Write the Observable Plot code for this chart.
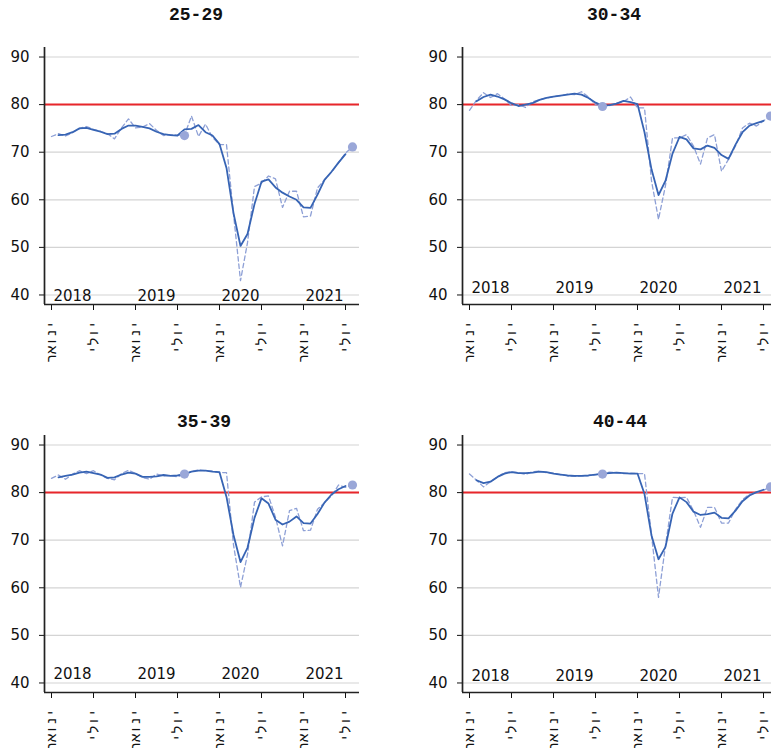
<!DOCTYPE html>
<html><head><meta charset="utf-8">
<script src="https://cdn.jsdelivr.net/npm/d3@7"></script>
<script src="https://cdn.jsdelivr.net/npm/@observablehq/plot@0.6"></script>
<style>
html,body{margin:0;padding:0;background:#fff;overflow:hidden;width:771px;height:748px}
#wrap{position:relative;width:771px;height:748px;overflow:hidden}
.title{position:absolute;font-family:"Liberation Mono",monospace;font-weight:bold;font-size:18px;line-height:20px;text-align:center;width:300px;color:#111}
.panel{position:absolute;width:418px;height:366px}
.panel svg{max-width:none !important}
.xlab text{font-family:"Liberation Mono",monospace}
</style></head><body><div id="wrap"></div>
<script>
// ---- data ----
const titles = ["25-29", "30-34", "35-39", "40-44"];
const yTicks = [40, 50, 60, 70, 80, 90];
const target = 80;
const xTicks = [0, 6, 12, 18, 24, 30, 36, 42];
const xTickLabels = ["ינואר", "יולי", "ינואר", "יולי", "ינואר", "יולי", "ינואר", "יולי"];
const years = ["2018", "2019", "2020", "2021"];
const yearMonths = [3, 15, 27, 39];
const dotMonths = [19, 43];

// monthly values, month 0 = Jan 2018
const raw2529 = [73.3, 73.9, 73.4, 74.1, 75.0, 75.4, 74.8, 74.4, 73.9, 72.8, 75.1, 77.0, 75.1, 75.3, 76.0, 74.6, 73.5, 73.7, 73.6, 73.6, 77.6, 73.3, 75.9, 73.1, 71.6, 71.6, 57.0, 43.0, 51.0, 62.8, 63.5, 65.0, 64.4, 58.4, 61.8, 61.8, 56.4, 56.6, 62.5, 64.2, 65.8, 67.8, 69.8, 71.1];
const smooth2529 = [73.6, 73.7, 74.2, 75.0, 75.1, 74.7, 74.3, 73.8, 73.9, 74.9, 75.6, 75.6, 75.3, 75.0, 74.3, 73.8, 73.6, 73.5, 74.8, 74.9, 75.7, 74.2, 73.5, 71.7, 66.7, 57.2, 50.3, 52.8, 59.1, 63.8, 64.3, 62.6, 61.5, 60.7, 60.0, 58.4, 58.3, 61.1, 64.2, 65.9, 67.8, 69.6];
const dots2529 = [73.5, 71.1];

const raw3034 = [78.8, 80.9, 82.5, 81.5, 82.3, 81.2, 79.8, 80.0, 79.4, 80.6, 81.0, 81.4, 81.7, 81.9, 82.2, 82.1, 82.7, 81.6, 80.0, 79.6, 79.8, 80.3, 80.6, 81.6, 79.3, 79.3, 64.0, 55.9, 63.0, 73.0, 73.0, 73.7, 71.3, 67.5, 73.0, 73.7, 66.0, 68.5, 71.3, 75.1, 76.1, 75.5, 76.6, 77.6];
const smooth3034 = [80.7, 81.6, 82.1, 81.7, 81.1, 80.3, 79.7, 80.0, 80.3, 81.0, 81.4, 81.7, 81.9, 82.1, 82.3, 82.1, 81.4, 80.4, 79.8, 79.9, 80.2, 80.8, 80.5, 80.1, 74.2, 66.4, 61.0, 64.0, 69.7, 73.2, 72.7, 70.8, 70.6, 71.4, 70.9, 69.4, 68.6, 71.6, 74.2, 75.6, 76.1, 76.6];
const dots3034 = [79.6, 77.6];

const raw3539 = [83.0, 83.7, 82.8, 83.9, 84.6, 84.0, 84.6, 83.7, 83.0, 82.7, 84.0, 84.7, 84.0, 83.2, 82.8, 83.9, 83.5, 83.6, 83.3, 83.9, 84.4, 84.8, 84.6, 84.5, 84.2, 84.2, 69.0, 60.1, 67.0, 78.0, 79.1, 79.3, 74.8, 68.8, 76.2, 76.7, 72.0, 72.1, 76.5, 77.9, 79.3, 81.6, 81.1, 81.6];
const smooth3539 = [83.2, 83.5, 83.8, 84.2, 84.4, 84.1, 83.8, 83.1, 83.2, 83.8, 84.2, 84.0, 83.3, 83.3, 83.4, 83.7, 83.5, 83.6, 83.9, 84.4, 84.6, 84.6, 84.4, 84.3, 79.1, 71.1, 65.4, 68.4, 74.7, 78.8, 77.7, 74.3, 73.3, 73.9, 75.0, 73.6, 73.5, 75.5, 77.9, 79.6, 80.7, 81.4];
const dots3539 = [83.9, 81.6];

const raw4044 = [83.9, 82.6, 81.2, 82.3, 83.3, 84.2, 84.4, 84.2, 83.8, 84.4, 84.5, 84.2, 84.1, 83.8, 83.5, 83.4, 83.5, 83.6, 83.8, 83.9, 84.3, 84.2, 84.0, 84.1, 84.0, 84.0, 71.1, 58.0, 68.9, 79.0, 78.9, 79.0, 76.2, 72.7, 76.9, 76.9, 73.6, 73.6, 76.5, 78.5, 79.7, 80.0, 80.5, 81.2];
const smooth4044 = [82.6, 82.0, 82.3, 83.3, 84.0, 84.3, 84.1, 84.1, 84.2, 84.4, 84.3, 84.0, 83.8, 83.6, 83.5, 83.5, 83.6, 83.8, 84.0, 84.1, 84.2, 84.1, 84.0, 84.0, 79.7, 71.0, 66.0, 68.6, 75.6, 79.0, 78.0, 76.0, 75.3, 75.5, 75.8, 74.7, 74.6, 76.2, 78.2, 79.4, 80.1, 80.6];
const dots4044 = [83.9, 81.2];

// ---- drawing ----
function panel(raw, smooth, dots, yearY) {
  const rawRows = raw.map((v, i) => ({m: i, v}));
  const smoothRows = smooth.map((v, i) => ({m: i + 1, v}));
  const dotRows = dotMonths.map((m, i) => ({m, v: dots[i]}));
  const yearRows = years.map((t, i) => ({m: yearMonths[i], t}));
  return Plot.plot({
    width: 418, height: 366,
    marginLeft: 44, marginRight: 59, marginTop: 47, marginBottom: 62,
    style: {fontFamily: "DejaVu Sans", fontSize: "15px", color: "#111", background: "transparent", overflow: "visible", maxWidth: "none"},
    x: {type: "linear", domain: [-1, 44]},
    y: {domain: [38, 92]},
    marks: [
      Plot.ruleY(yTicks, {stroke: "#d4d4d4", strokeWidth: 1.2}),
      Plot.ruleY([target], {stroke: "#e8262b", strokeWidth: 2}),
      Plot.line(rawRows, {x: "m", y: "v", stroke: "#8ea0d6", strokeWidth: 1.3, strokeDasharray: "4.5,3"}),
      Plot.line(smoothRows, {x: "m", y: "v", stroke: "#3764b4", strokeWidth: 1.8}),
      Plot.dot(dotRows, {x: "m", y: "v", r: 4.6, fill: "#9aa7d8"}),
      Plot.text(yearRows, {x: "m", y: yearY, text: "t", fontSize: 15, fill: "#111"}),
      Plot.axisY({ticks: yTicks, tickSize: 5, tickPadding: 10, fontSize: 15, label: null, tickFormat: d => String(d)}),
      Plot.axisX({ticks: xTicks, tickFormat: d => xTickLabels[xTicks.indexOf(d)], tickRotate: -90, tickSize: 6, tickPadding: 10, fontSize: 14, label: null, className: "xlab"}),
      Plot.ruleX([-1], {stroke: "#222", strokeWidth: 1.7}),
      Plot.ruleY([38], {stroke: "#222", strokeWidth: 1.7})
    ]
  });
}

const wrap = document.getElementById("wrap");
const specs = [
  {raw: raw2529, smooth: smooth2529, dots: dots2529, left: 0, top: 0, tx: 196, ty: 15, yearY: 39.8},
  {raw: raw3034, smooth: smooth3034, dots: dots3034, left: 418, top: 0, tx: 614, ty: 15, yearY: 41.5},
  {raw: raw3539, smooth: smooth3539, dots: dots3539, left: 0, top: 388, tx: 204, ty: 422, yearY: 41.8},
  {raw: raw4044, smooth: smooth4044, dots: dots4044, left: 418, top: 388, tx: 620, ty: 422, yearY: 41.4}
];
specs.forEach((s, i) => {
  const div = document.createElement("div");
  div.className = "panel";
  div.style.left = s.left + "px";
  div.style.top = s.top + "px";
  const svg = panel(s.raw, s.smooth, s.dots, s.yearY);
  svg.style.maxWidth = "none";
  div.appendChild(svg);
  wrap.appendChild(div);
  const t = document.createElement("div");
  t.className = "title";
  t.textContent = titles[i];
  t.style.left = (s.tx - 150) + "px";
  t.style.top = (s.ty - 10) + "px";
  wrap.appendChild(t);
});
</script></body></html>
